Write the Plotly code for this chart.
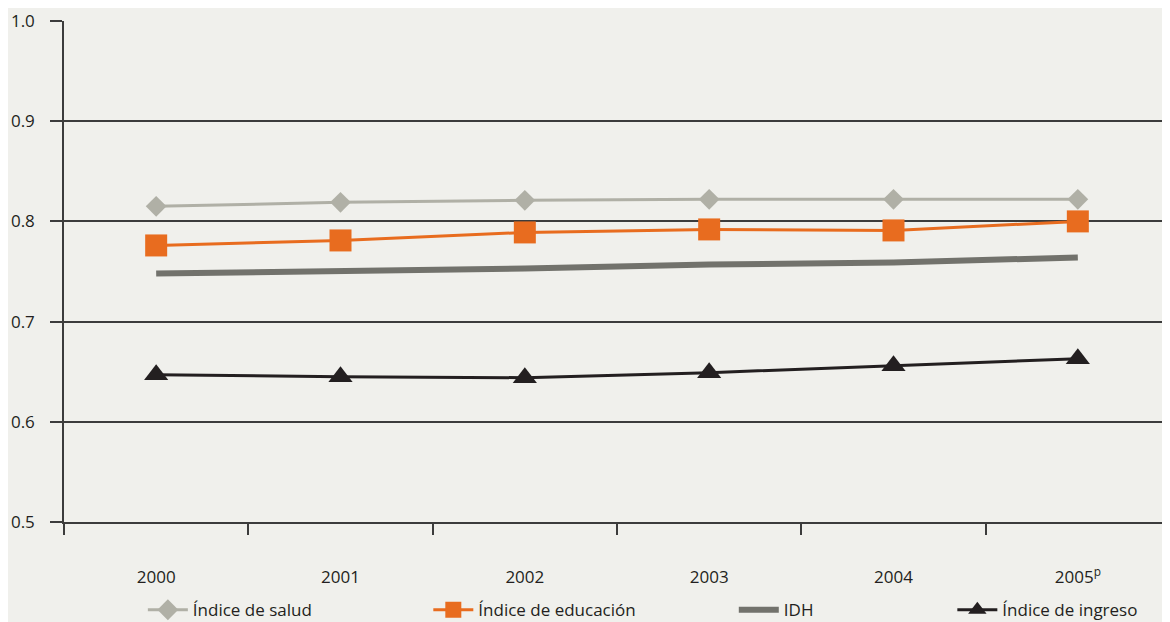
import plotly.graph_objects as go

years = ["2000", "2001", "2002", "2003", "2004", "2005<sup>p</sup>"]
salud = [0.815, 0.819, 0.821, 0.822, 0.822, 0.822]
educacion = [0.776, 0.781, 0.789, 0.792, 0.791, 0.800]
idh = [0.748, 0.750, 0.753, 0.757, 0.759, 0.764]
ingreso = [0.647, 0.645, 0.644, 0.649, 0.656, 0.663]
y_ticks = [0.5, 0.6, 0.7, 0.8, 0.9, 1.0]
y_labels = ["0.5", "0.6", "0.7", "0.8", "0.9", "1.0"]

FONT = "Open Sans"
TXT = "#231f20"
GRID = "#3c3c3c"
BG = "#f0f0ec"

fig = go.Figure()
fig.add_trace(go.Scatter(x=years, y=salud, name="Índice de salud", mode="lines+markers",
                         line=dict(color="#b0b0a6", width=3),
                         marker=dict(symbol="diamond", size=16, color="#b0b0a6"),
                         legend="legend"))
fig.add_trace(go.Scatter(x=years, y=idh, name="IDH", mode="lines",
                         line=dict(color="#72726c", width=6),
                         legend="legend3"))
fig.add_trace(go.Scatter(x=years, y=educacion, name="Índice de educación", mode="lines+markers",
                         line=dict(color="#e86c1f", width=3),
                         marker=dict(symbol="square", size=22, color="#e86c1f"),
                         legend="legend2"))
fig.add_trace(go.Scatter(x=years, y=ingreso, name="Índice de ingreso", mode="lines+markers",
                         line=dict(color="#231f20", width=3),
                         marker=dict(symbol="triangle-up", size=21, color="#231f20"),
                         legend="legend4"))

def leg(x):
    return dict(x=x, y=-0.176, xanchor="left", yanchor="middle", orientation="h",
                bgcolor="rgba(0,0,0,0)", font=dict(family=FONT, size=17, color=TXT),
                itemwidth=40)

fig.update_layout(
    width=1162, height=614,
    paper_bgcolor=BG, plot_bgcolor=BG,
    margin=dict(l=56, r=0, t=13, b=100, autoexpand=False),
    font=dict(family=FONT, size=17, color=TXT),
    legend=leg(0.0713),
    legend2=leg(0.3294),
    legend3=leg(0.6056),
    legend4=leg(0.8032),
    showlegend=True,
)
fig.update_xaxes(
    type="category", range=[-0.5, 5.5], showgrid=False,
    showline=True, linecolor=GRID, linewidth=1.5,
    ticks="outside", ticklen=11, tickcolor=GRID, tickwidth=1.5,
    tickson="boundaries", ticklabelstandoff=39,
    tickfont=dict(family=FONT, size=17, color=TXT),
)
fig.update_yaxes(
    range=[0.5, 1.0], tickvals=y_ticks, ticktext=y_labels,
    showgrid=True, gridcolor=GRID, gridwidth=1.5,
    showline=True, linecolor=GRID, linewidth=1.5,
    ticks="outside", ticklen=12, tickcolor=GRID, tickwidth=1.5,
    ticklabelstandoff=12, zeroline=False,
    tickfont=dict(family=FONT, size=17, color=TXT),
)
fig.write_html("out.html")
